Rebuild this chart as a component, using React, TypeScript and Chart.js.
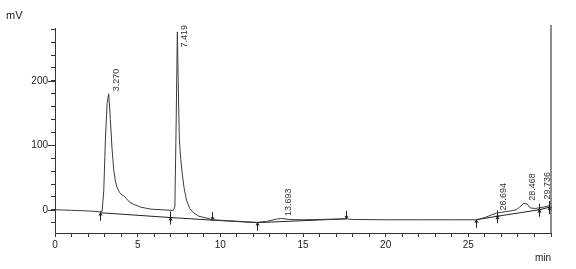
import React, { useEffect, useRef } from 'react';
import { Chart, registerables } from 'chart.js';
Chart.register(...registerables);

// Chromatogram trace (time in min, signal in mV)
const traceTimes = [
  0, 1, 2, 2.7, 2.85, 2.95, 3.05, 3.15, 3.25, 3.35, 3.45, 3.55, 3.65, 3.75, 3.9, 4.05, 4.2, 4.3, 4.5, 4.8, 5.2, 5.8, 6.5, 7.15,
  7.25, 7.32, 7.4, 7.45, 7.52, 7.6, 7.7, 7.8, 7.95, 8.15, 8.4, 8.7, 9.2, 9.5, 10.5, 11.5, 12.2, 12.8, 13.4, 13.7, 14.2, 15, 16,
  17, 17.6, 18, 20, 22, 24, 25.5, 26.0, 26.4, 26.7, 27.0, 27.5, 27.9, 28.1, 28.35, 28.55, 28.75, 29.0, 29.3, 29.6, 29.85, 29.95, 30,
];
const traceValues = [
  0, -0.8, -1.8, -3, -2, 30, 110, 165, 180, 140, 95, 62, 45, 35, 27, 23, 21, 18, 12, 8, 4, 1, 0, -1,
  5, 120, 276, 200, 110, 80, 55, 35, 15, 2, -5, -10, -13, -15.5, -17, -18.5, -19.5, -18, -14.5, -13.5, -15, -15.5, -15,
  -14.5, -14, -15, -15.5, -15.5, -15.5, -15.5, -12, -8, -5, -4, -2, 0, 4, 10, 9, 3, 2, 3, 4.5, 6, 8, 11,
];

// Integration baselines (null = gap)
const baselineTimes = [2.72, 6.96, 9.5, 12.2, 17.6, 21, 25.47, 26.76, 29.28, 29.9];
const baselineValues = [-4.5, -12, -16, -20, -14, null, -15.5, -10, 0, 4];

// Baseline event markers
const markerTimes = [2.72, 6.96, 9.5, 12.2, 17.6, 25.47, 26.76, 29.28, 29.9];
const markerValues = [-4.5, -12, -16, -20, -14, -15.5, -10, 0, 4];
const markerKinds = ['up', 'cross', 'down', 'up', 'down', 'up', 'cross', 'cross', 'cross'];

// Peak retention time labels
const peakTimes = [3.27, 7.419, 13.693, 26.694, 28.468, 29.736];
const peakLabels = ['3.270', '7.419', '13.693', '26.694', '28.468', '29.736'];
const peakHeights = [180, 276, -13.5, -5, 10, 12];

// Axis ticks
const yTickValues = [-20, 0, 20, 40, 60, 80, 100, 120, 140, 160, 180, 200, 220, 240, 260, 280];
const yLabelValues = [0, 100, 200];
const xLabelValues = [0, 5, 10, 15, 20, 25];
const yUnit = 'mV';
const xUnit = 'min';

const FONT = '"Liberation Sans", Arial, sans-serif';

const overlayPlugin = {
  id: 'overlay',
  afterDatasetsDraw(chart: any) {
    const ctx = chart.ctx;
    const xs = chart.scales.x;
    const ys = chart.scales.y;
    const area = chart.chartArea;
    ctx.save();
    // right border line
    ctx.strokeStyle = '#666';
    ctx.lineWidth = 1.5;
    ctx.beginPath();
    ctx.moveTo(area.right, area.top - 3);
    ctx.lineTo(area.right, area.bottom);
    ctx.stroke();
    // longer major y ticks
    ctx.strokeStyle = '#333';
    ctx.lineWidth = 1;
    yLabelValues.forEach((v) => {
      const py = Math.round(ys.getPixelForValue(v)) + 0.5;
      ctx.beginPath();
      ctx.moveTo(area.left - 7, py);
      ctx.lineTo(area.left, py);
      ctx.stroke();
    });
    // markers
    ctx.strokeStyle = '#222';
    markerTimes.forEach((t, i) => {
      const px = Math.round(xs.getPixelForValue(t)) + 0.5;
      const py = ys.getPixelForValue(markerValues[i]);
      const k = markerKinds[i];
      ctx.beginPath();
      if (k === 'up') {
        ctx.moveTo(px, py + 8);
        ctx.lineTo(px, py);
        ctx.moveTo(px - 1.5, py + 3);
        ctx.lineTo(px, py);
        ctx.lineTo(px + 1.5, py + 3);
      } else if (k === 'down') {
        ctx.moveTo(px, py - 8);
        ctx.lineTo(px, py);
        ctx.moveTo(px - 1.5, py - 3);
        ctx.lineTo(px, py);
        ctx.lineTo(px + 1.5, py - 3);
      } else {
        ctx.moveTo(px, py - 6);
        ctx.lineTo(px, py + 7);
        ctx.moveTo(px - 2, py);
        ctx.lineTo(px + 2, py);
        ctx.moveTo(px - 1.5, py + 3);
        ctx.lineTo(px, py);
        ctx.lineTo(px + 1.5, py + 3);
      }
      ctx.stroke();
    });
    // peak labels
    ctx.fillStyle = '#333';
    ctx.font = '9px ' + FONT;
    ctx.textAlign = 'left';
    ctx.textBaseline = 'middle';
    peakTimes.forEach((t, i) => {
      const txt = peakLabels[i];
      const w = ctx.measureText(txt).width;
      let px = xs.getPixelForValue(t) + 7;
      if (px > area.right - 3) px = area.right - 3;
      let bottom = ys.getPixelForValue(peakHeights[i]) - 2.5;
      if (bottom - w < area.top - 3) bottom = area.top - 3 + w;
      ctx.save();
      ctx.translate(px, bottom);
      ctx.rotate(-Math.PI / 2);
      ctx.fillText(txt, 0, 0);
      ctx.restore();
    });
    // units
    ctx.fillStyle = '#222';
    ctx.font = '11px ' + FONT;
    ctx.textAlign = 'left';
    ctx.textBaseline = 'middle';
    ctx.fillText(yUnit, 6, 16);
    ctx.font = '10px ' + FONT;
    ctx.textAlign = 'right';
    ctx.fillText(xUnit, area.right, 258);
    ctx.restore();
  },
};

export default function App() {
  const ref = useRef<HTMLCanvasElement | null>(null);
  useEffect(() => {
    if (!ref.current) return;
    const chart = new Chart(ref.current, {
      type: 'line',
      data: {
        datasets: [
          {
            data: traceTimes.map((t, i) => ({ x: t, y: traceValues[i] })),
            borderColor: '#3a3a3a',
            borderWidth: 1,
            pointRadius: 0,
            tension: 0,
          },
          {
            data: baselineTimes.map((t, i) => ({ x: t, y: baselineValues[i] })),
            borderColor: '#222',
            borderWidth: 1,
            pointRadius: 0,
            tension: 0,
            spanGaps: false,
          },
        ],
      },
      options: {
        responsive: false,
        animation: false,
        events: [],
        layout: { padding: { left: 0, top: 28, right: 25, bottom: 0 } },
        plugins: { legend: { display: false }, tooltip: { enabled: false } },
        scales: {
          x: {
            type: 'linear',
            min: 0,
            max: 30,
            afterFit: (s: any) => { s.height = 36; },
            ticks: {
              stepSize: 1,
              autoSkip: false,
              maxRotation: 0,
              padding: 2,
              color: '#222',
              font: { family: FONT, size: 10 },
              callback: (v: any) => (xLabelValues.includes(Number(v)) ? String(v) : ''),
            },
            grid: { display: true, drawOnChartArea: false, drawTicks: true, tickLength: 4, tickColor: '#333' },
            border: { display: true, color: '#333', width: 1 },
          },
          y: {
            type: 'linear',
            min: -36,
            max: 282,
            afterFit: (s: any) => { s.width = 55; },
            afterBuildTicks: (s: any) => { s.ticks = yTickValues.map((v) => ({ value: v })); },
            ticks: {
              autoSkip: false,
              padding: 3,
              color: '#222',
              font: { family: FONT, size: 10 },
              callback: (v: any) => (yLabelValues.includes(Number(v)) ? String(v) : ''),
            },
            grid: { display: true, drawOnChartArea: false, drawTicks: true, tickLength: 4, tickColor: '#333' },
            border: { display: true, color: '#333', width: 1 },
          },
        },
      },
      plugins: [overlayPlugin],
    });
    return () => chart.destroy();
  }, []);
  return (
    <div style={{ position: 'fixed', left: 0, top: 0, width: 576, height: 269, background: '#fff' }}>
      <canvas ref={ref} width={576} height={269} style={{ display: 'block' }} />
    </div>
  );
}
